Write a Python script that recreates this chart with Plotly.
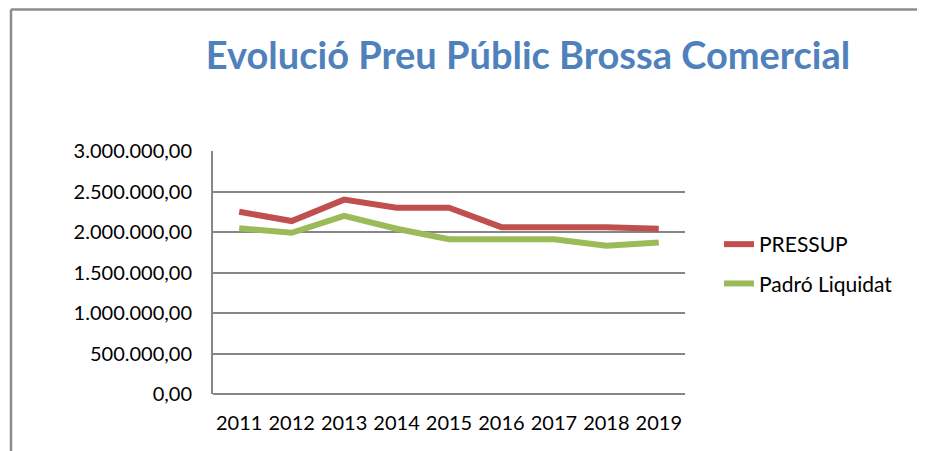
import plotly.graph_objects as go

years = ["2011", "2012", "2013", "2014", "2015", "2016", "2017", "2018", "2019"]
pressup = [2250000, 2135000, 2400000, 2300000, 2300000, 2060000, 2060000, 2060000, 2040000]
padro = [2045000, 1990000, 2200000, 2040000, 1910000, 1910000, 1910000, 1830000, 1870000]
ytick_vals = [0, 500000, 1000000, 1500000, 2000000, 2500000, 3000000]
ytick_text = ["0,00", "500.000,00", "1.000.000,00", "1.500.000,00",
              "2.000.000,00", "2.500.000,00", "3.000.000,00"]

OFF = 8  # page body margin
W, H = 925 - OFF, 451 - OFF
# plot area in page pixels
L, R, T, B = 213, 685, 151, 394

fig = go.Figure()
fig.add_trace(go.Scatter(x=years, y=pressup, mode="lines", name="PRESSUP",
                         line=dict(color="#C0504D", width=6), legendgroup="a"))
fig.add_trace(go.Scatter(x=years, y=padro, mode="lines", name="Padró Liquidat",
                         line=dict(color="#9BBB59", width=6), legendgroup="b"))

def px2x(p):
    return (p - L) / (R - L)

def px2y(p):
    return (B - p) / (B - T)

fig.add_shape(type="line", xref="paper", yref="paper",
              x0=px2x(11), x1=px2x(940), y0=px2y(9.5), y1=px2y(9.5),
              line=dict(color="#8C8C8C", width=2.5))
fig.add_shape(type="line", xref="paper", yref="paper",
              x0=px2x(11), x1=px2x(11), y0=px2y(9.5), y1=px2y(470),
              line=dict(color="#8C8C8C", width=2.5))

fig.update_layout(
    width=W, height=H,
    margin=dict(l=L - OFF, r=(925 - R), t=T - OFF, b=(451 - B)),
    paper_bgcolor="white", plot_bgcolor="white",
    font=dict(family="Lato, Carlito, sans-serif", size=20, color="#000000"),
    title=dict(text="<b>Evolució Preu Públic Brossa Comercial</b>",
               font=dict(family="Lato, Carlito, sans-serif", size=38, color="#4F81BD"),
               xref="container", yref="container",
               x=(528 - OFF) / W, xanchor="center", y=1 - (56 - OFF) / H, yanchor="middle"),
    showlegend=True,
    legend=dict(x=px2x(719), y=px2y(224), xanchor="left", yanchor="top",
                font=dict(size=21), tracegroupgap=9, bgcolor="rgba(0,0,0,0)"),
    xaxis=dict(type="category", range=[-0.5, 8.5], showgrid=False,
               showline=False, zeroline=False, ticks="", ticklabelstandoff=15,
               fixedrange=True),
    yaxis=dict(range=[0, 3000000], tickvals=ytick_vals, ticktext=ytick_text,
               showgrid=True, gridcolor="#868686", gridwidth=2,
               zeroline=True, zerolinecolor="#868686", zerolinewidth=2,
               showline=True, linecolor="#868686", linewidth=2,
               ticks="", ticklabelstandoff=15, fixedrange=True),
)

fig.write_html("out.html")
